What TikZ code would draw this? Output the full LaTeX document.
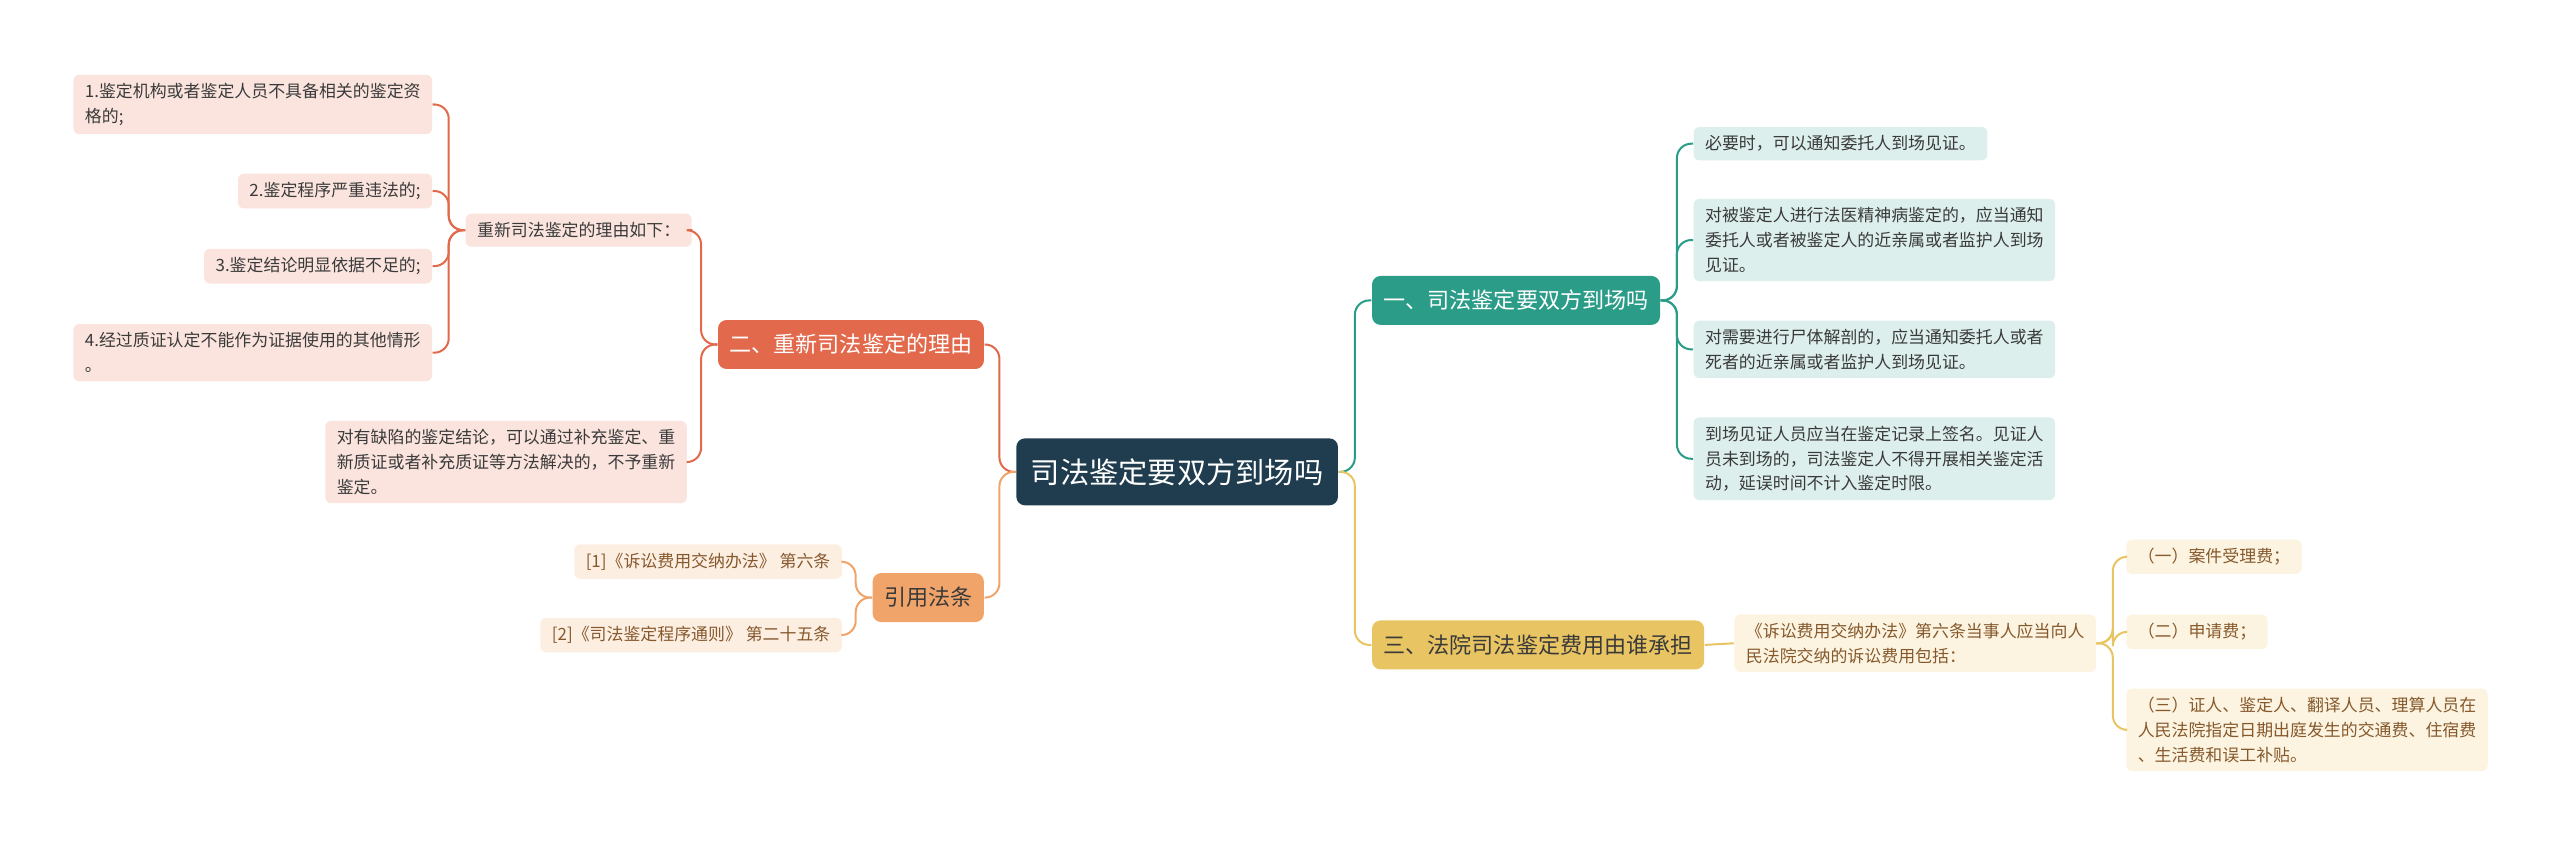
\documentclass[tikz,border=0pt]{standalone}
\usepackage{fontspec}
\setmainfont{Noto Sans CJK SC}
\definecolor{navy}{HTML}{1F3D4E}
\definecolor{teal}{HTML}{2A9C87}
\definecolor{teallt}{HTML}{DCEFEC}
\definecolor{red}{HTML}{E2694B}
\definecolor{redlt}{HTML}{FBE4DE}
\definecolor{gold}{HTML}{E8C462}
\definecolor{goldlt}{HTML}{FCF4E0}
\definecolor{org}{HTML}{F1A46A}
\definecolor{orglt}{HTML}{FDEEE2}
\definecolor{txt}{HTML}{3A3A3A}
\begin{document}
\begin{tikzpicture}[x=0.02cm, y=-0.02cm,
  box/.style={rounded corners=2pt, inner xsep=4pt, inner ysep=3pt, font=\fontsize{5.9pt}{8.6pt}\selectfont, text=txt, align=left},
  rootbox/.style={rounded corners=3pt, fill=navy, text=white, font=\fontsize{10.2pt}{12pt}\selectfont, minimum width=197*0.02cm, minimum height=41*0.02cm},
  branch/.style={rounded corners=3pt, text=white, font=\fontsize{7.7pt}{9pt}\selectfont, minimum height=30*0.02cm, inner xsep=4pt},
  tl/.style={line width=0.7pt, rounded corners=5pt}]
\useasboundingbox (0,0) rectangle (1568,518);
% root
\node[rootbox] (root) at (721,289) {司法鉴定要双方到场吗};
% branch one
\node[branch, fill=teal, anchor=west] (b1) at (840,184) {一、司法鉴定要双方到场吗};
\node[box, fill=teallt, anchor=west] (b1-1) at (1037,88) {必要时，可以通知委托人到场见证。};
\node[box, fill=teallt, anchor=west] (b1-2) at (1037,147) {对被鉴定人进行法医精神病鉴定的，应当通知\\委托人或者被鉴定人的近亲属或者监护人到场\\见证。};
\node[box, fill=teallt, anchor=west] (b1-3) at (1037,214) {对需要进行尸体解剖的，应当通知委托人或者\\死者的近亲属或者监护人到场见证。};
\node[box, fill=teallt, anchor=west] (b1-4) at (1037,281) {到场见证人员应当在鉴定记录上签名。见证人\\员未到场的，司法鉴定人不得开展相关鉴定活\\动，延误时间不计入鉴定时限。};
% branch three
\node[branch, fill=gold, text=txt, anchor=west] (b3) at (840,395) {三、法院司法鉴定费用由谁承担};
\node[box, fill=goldlt, text=brown!70!black, anchor=west] (b3-1) at (1062,394) {《诉讼费用交纳办法》第六条当事人应当向人\\民法院交纳的诉讼费用包括：};
\node[box, fill=goldlt, text=brown!70!black, anchor=west] (b3-1-1) at (1302,341) {（一）案件受理费；};
\node[box, fill=goldlt, text=brown!70!black, anchor=west] (b3-1-2) at (1302,387) {（二）申请费；};
\node[box, fill=goldlt, text=brown!70!black, anchor=west] (b3-1-3) at (1302,447) {（三）证人、鉴定人、翻译人员、理算人员在\\人民法院指定日期出庭发生的交通费、住宿费\\、生活费和误工补贴。};
% branch two
\node[branch, fill=red, anchor=east] (b2) at (603,211) {二、重新司法鉴定的理由};
\node[box, fill=redlt, anchor=east] (b2-1) at (424,141) {重新司法鉴定的理由如下：};
\node[box, fill=redlt, anchor=east] (b2-1-1) at (265,64) {1.鉴定机构或者鉴定人员不具备相关的鉴定资\\格的;};
\node[box, fill=redlt, anchor=east] (b2-1-2) at (265,117) {2.鉴定程序严重违法的;};
\node[box, fill=redlt, anchor=east] (b2-1-3) at (265,163) {3.鉴定结论明显依据不足的;};
\node[box, fill=redlt, anchor=east] (b2-1-4) at (265,216) {4.经过质证认定不能作为证据使用的其他情形\\。};
\node[box, fill=redlt, anchor=east] (b2-2) at (421,283) {对有缺陷的鉴定结论，可以通过补充鉴定、重\\新质证或者补充质证等方法解决的，不予重新\\鉴定。};
% branch four
\node[branch, fill=org, text=txt, anchor=east] (b4) at (603,366) {引用法条};
\node[box, fill=orglt, text=brown!70!black, anchor=east] (b4-1) at (516,344) {[1]《诉讼费用交纳办法》 第六条};
\node[box, fill=orglt, text=brown!70!black, anchor=east] (b4-2) at (516,389) {[2]《司法鉴定程序通则》 第二十五条};
% connectors
\foreach \c in {b1-1,b1-2,b1-3,b1-4}
  \draw[tl, teal] (b1.east) -- ++(10,0) |- (\c.west);
\draw[tl, teal] (root.east) -- ++(10,0) |- (b1.west);
\draw[tl, gold] (root.east) -- ++(10,0) |- (b3.west);
\draw[tl, gold] (b3.east) -- (b3-1.west);
\foreach \c in {b3-1-1,b3-1-2,b3-1-3}
  \draw[tl, gold] (b3-1.east) -- ++(10,0) |- (\c.west);
\draw[tl, red] (root.west) -- ++(-10,0) |- (b2.east);
\draw[tl, org] (root.west) -- ++(-10,0) |- (b4.east);
\foreach \c in {b2-1,b2-2}
  \draw[tl, red] (b2.west) -- ++(-10,0) |- (\c.east);
\foreach \c in {b2-1-1,b2-1-2,b2-1-3,b2-1-4}
  \draw[tl, red] (b2-1.west) -- ++(-10,0) |- (\c.east);
\foreach \c in {b4-1,b4-2}
  \draw[tl, org] (b4.west) -- ++(-10,0) |- (\c.east);
\end{tikzpicture}
\end{document}
